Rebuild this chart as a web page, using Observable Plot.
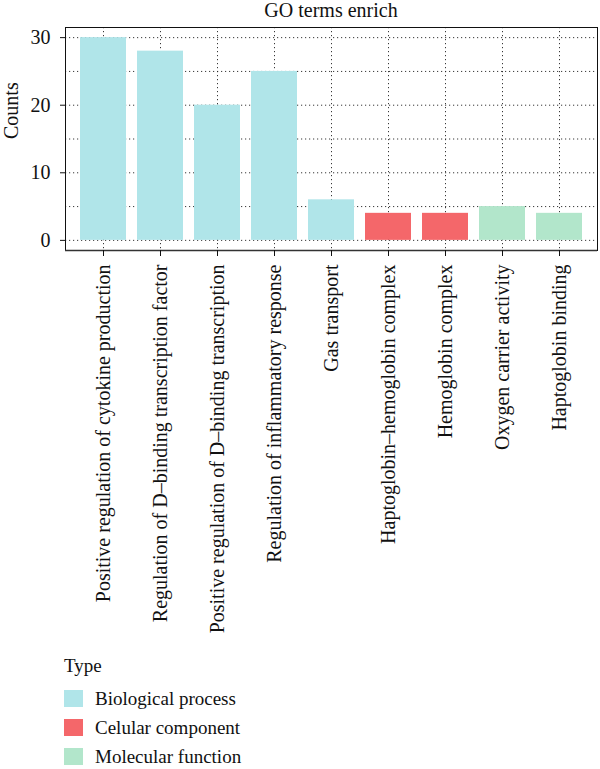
<!DOCTYPE html>
<html>
<head>
<meta charset="utf-8">
<script src="https://cdn.jsdelivr.net/npm/d3@7"></script>
<script src="https://cdn.jsdelivr.net/npm/@observablehq/plot@0.6"></script>
<style>
  body { margin: 0; background: #fff; }
  #wrap { position: relative; width: 600px; height: 769px; font-family: "Liberation Serif", serif; color: #111; }
  #title { position: absolute; top: 0; left: 65px; width: 532px; text-align: center; font-size: 20px; line-height: 21px; }
  #chart { position: absolute; top: 22px; left: 0; }
  #legend { position: absolute; top: 654px; left: 64px; font-size: 19px; }
  #legend .head { line-height: 24px; margin-bottom: 6px; }
  #legend .row { display: flex; align-items: center; height: 29px; }
  #legend .sw { width: 19px; height: 17px; margin-right: 12px; }
</style>
</head>
<body>
<div id="wrap">
  <div id="title">GO terms enrich</div>
  <div id="chart"></div>
  <div id="legend"></div>
</div>
<script>
// GO terms and their gene counts
const terms = [
  "Positive regulation of cytokine production",
  "Regulation of D\u2013binding transcription factor",
  "Positive regulation of D\u2013binding transcription",
  "Regulation of inflammatory response",
  "Gas transport",
  "Haptoglobin\u2013hemoglobin complex",
  "Hemoglobin complex",
  "Oxygen carrier activity",
  "Haptoglobin binding"
];
const counts = [30, 28, 20, 25, 6, 4, 4, 5, 4];
const types = [
  "Biological process", "Biological process", "Biological process", "Biological process", "Biological process",
  "Celular component", "Celular component",
  "Molecular function", "Molecular function"
];
const typeNames = ["Biological process", "Celular component", "Molecular function"];
const typeColors = ["#b0e5e9", "#f4676a", "#b2e6cb"];
const yTicks = [0, 10, 20, 30];
const gridTicks = [0, 5, 10, 15, 20, 25, 30];

const data = terms.map((t, i) => ({term: t, count: counts[i], type: types[i]}));

const chart = Plot.plot({
  width: 600,
  height: 620,
  marginTop: 5,
  marginLeft: 65,
  marginRight: 3,
  marginBottom: 392,
  style: {fontFamily: "Liberation Serif, serif", fontSize: "20px", color: "#111", background: "white"},
  x: {domain: terms, padding: 0.2, label: null},
  y: {domain: [-1.5, 31.5], label: null},
  color: {domain: typeNames, range: typeColors},
  marks: [
    Plot.gridY(gridTicks, {stroke: "#222", strokeOpacity: 0.9, strokeDasharray: "1.2,2.8"}),
    Plot.gridX({stroke: "#222", strokeOpacity: 0.9, strokeDasharray: "1.2,2.8"}),
    Plot.barY(data, {x: "term", y1: 0, y2: "count", fill: "type"}),
    Plot.frame({stroke: "#111", strokeWidth: 1}),
    Plot.ruleY([-1.5], {stroke: "#333", strokeWidth: 1.6}),
    Plot.axisY({ticks: yTicks, tickSize: 5, tickPadding: 10, label: null, fontSize: 20}),
    Plot.axisX({tickRotate: -90, tickSize: 6, tickPadding: 8, label: null, fontSize: 20}),
    Plot.text(["Counts"], {frameAnchor: "left", dx: -54, rotate: -90, fontSize: 20})
  ]
});
document.getElementById("chart").appendChild(chart);

// Legend for the GO category
const legend = document.getElementById("legend");
const head = document.createElement("div");
head.className = "head";
head.textContent = "Type";
legend.appendChild(head);
typeNames.forEach((name, i) => {
  const row = document.createElement("div");
  row.className = "row";
  const sw = document.createElement("div");
  sw.className = "sw";
  sw.style.background = typeColors[i];
  const label = document.createElement("span");
  label.textContent = name;
  row.appendChild(sw);
  row.appendChild(label);
  legend.appendChild(row);
});
</script>
</body>
</html>
